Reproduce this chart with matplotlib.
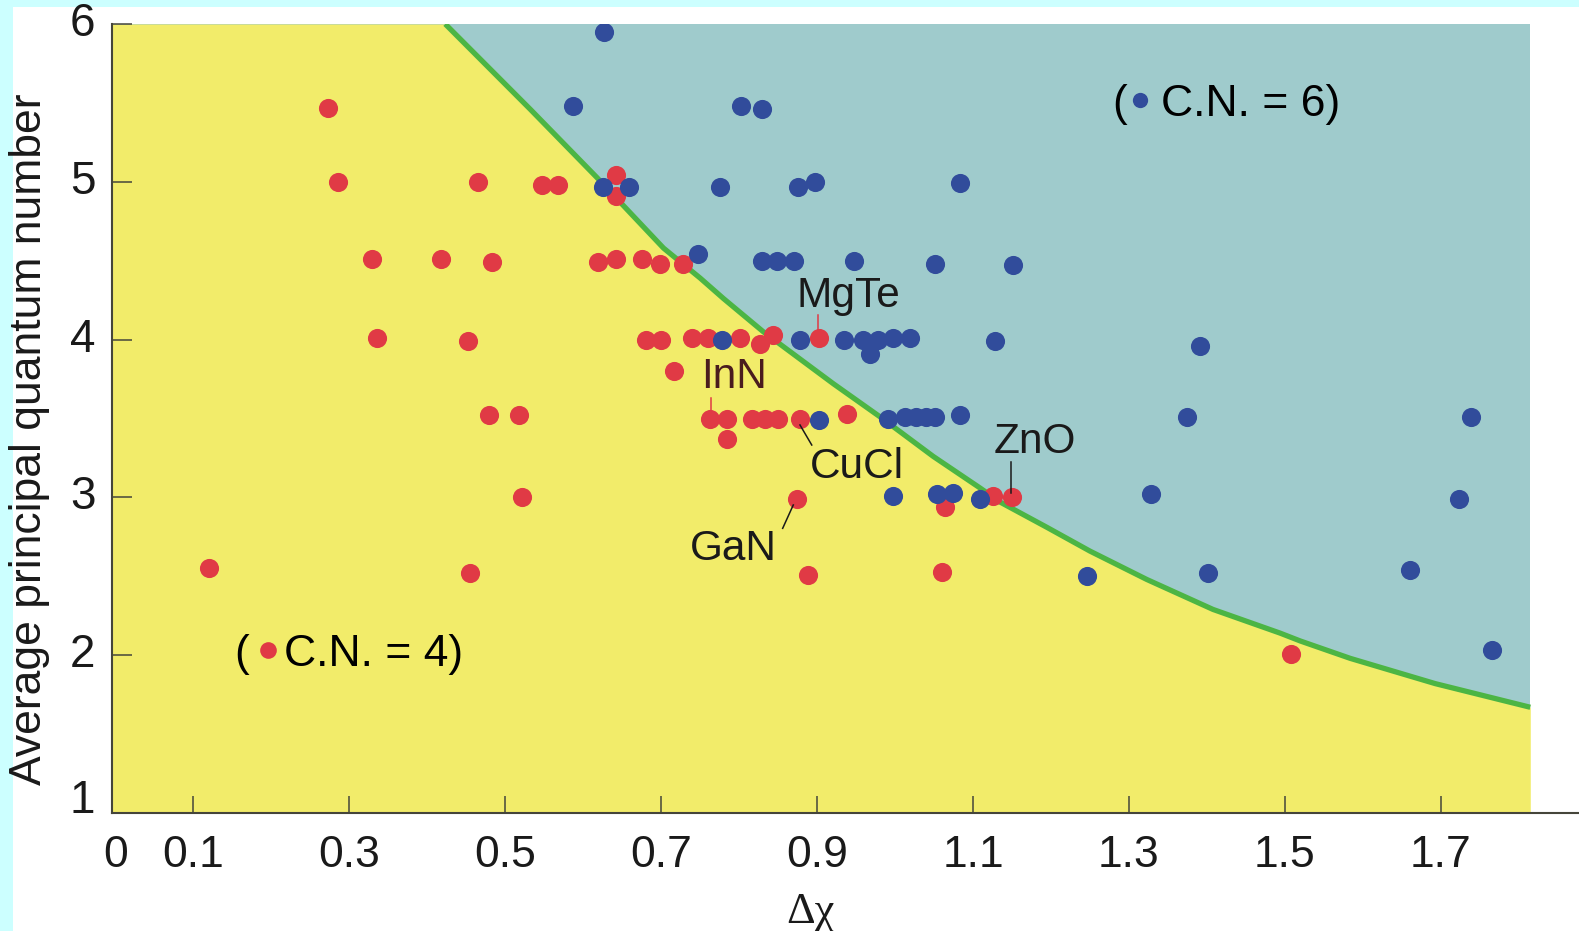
import matplotlib
matplotlib.use('Agg')
import matplotlib.pyplot as plt
from matplotlib.lines import Line2D
from matplotlib.patches import Rectangle

# C.N. = 4 compounds (red)
red_x = [0.273, 0.285, 0.465, 0.547, 0.568, 0.642, 0.642,
         0.329, 0.417, 0.483, 0.619, 0.642, 0.676, 0.698, 0.728,
         0.336, 0.452, 0.680, 0.700, 0.740, 0.760, 0.801, 0.827, 0.844, 0.902,
         0.717,
         0.479, 0.518, 0.763, 0.784, 0.784, 0.816, 0.833, 0.850, 0.878, 0.938,
         0.522, 0.874, 1.064, 1.126, 1.150,
         0.120, 0.455, 0.889, 1.060,
         1.508]
red_y = [5.47, 5.00, 5.00, 4.98, 4.98, 5.04, 4.91,
         4.51, 4.51, 4.49, 4.49, 4.51, 4.51, 4.48, 4.48,
         4.01, 3.99, 4.00, 4.00, 4.01, 4.01, 4.01, 3.97, 4.03, 4.01,
         3.80,
         3.52, 3.52, 3.50, 3.50, 3.37, 3.50, 3.50, 3.50, 3.50, 3.53,
         3.00, 2.99, 2.94, 3.01, 3.00,
         2.55, 2.52, 2.51, 2.53,
         2.01]

# C.N. = 6 compounds (blue)
blue_x = [0.627,
          0.587, 0.803, 0.829,
          0.625, 0.659, 0.775, 0.875, 0.897, 1.083,
          0.747, 0.830, 0.849, 0.870, 0.948, 1.051, 1.151,
          0.778, 0.878, 0.934, 0.959, 0.968, 0.978, 0.998, 1.019, 1.128, 1.391,
          0.902, 0.991, 1.013, 1.027, 1.040, 1.051, 1.083, 1.374, 1.739,
          0.997, 1.054, 1.075, 1.109, 1.329, 1.723,
          1.246, 1.402, 1.661,
          1.766]
blue_y = [5.95,
          5.48, 5.48, 5.46,
          4.97, 4.97, 4.97, 4.97, 5.00, 4.99,
          4.54, 4.50, 4.50, 4.50, 4.50, 4.48, 4.47,
          4.00, 4.00, 4.00, 4.00, 3.91, 4.00, 4.01, 4.01, 3.99, 3.96,
          3.49, 3.50, 3.51, 3.51, 3.51, 3.51, 3.52, 3.51, 3.51,
          3.01, 3.02, 3.03, 2.99, 3.02, 2.99,
          2.50, 2.52, 2.54,
          2.03]

# boundary between the two regions
bound_x = [0.423, 0.532, 0.617, 0.703, 0.750, 0.780, 0.831, 0.921, 0.981, 1.049,
           1.109, 1.135, 1.195, 1.250, 1.323, 1.408, 1.494, 1.520, 1.584, 1.693, 1.815]
bound_y = [6.00, 5.46, 5.03, 4.58, 4.39, 4.26, 4.05, 3.72, 3.51, 3.26,
           3.06, 2.97, 2.81, 2.66, 2.48, 2.29, 2.14, 2.09, 1.98, 1.82, 1.67]

xtick_vals = [0, 0.1, 0.3, 0.5, 0.7, 0.9, 1.1, 1.3, 1.5, 1.7]
xtick_labels = ['0', '0.1', '0.3', '0.5', '0.7', '0.9', '1.1', '1.3', '1.5', '1.7']
ytick_vals = [1, 2, 3, 4, 5, 6]

# name, text x, text y (baseline), leader start, leader end, colours
labels = [
    ('MgTe', 0.940, 4.209, (0.9016, 4.156), (0.9016, 4.042), '#1a1a1a', '#e03a45'),
    ('InN', 0.7935, 3.691, (0.764, 3.630), (0.764, 3.535), '#4a1c1e', '#e03a45'),
    ('CuCl', 0.951, 3.121, (0.8781, 3.459), (0.8932, 3.332), '#1a1a1a', '#1a1a1a'),
    ('GaN', 0.793, 2.603, (0.8695, 2.952), (0.8559, 2.804), '#1a1a1a', '#1a1a1a'),
    ('ZnO', 1.179, 3.279, (1.1488, 3.226), (1.1488, 3.026), '#1a1a1a', '#1a1a1a'),
]

YELLOW = '#f2ec6a'
TEAL = '#9fcbcc'
GREEN = '#4cb544'
RED = '#e03a45'
BLUE = '#314c9b'
AXC = '#45453a'
SANS = ['Liberation Sans', 'DejaVu Sans']

plt.rcParams['font.family'] = SANS

W, H, DPI = 1579, 931, 100
X_LO, X_HI, X_FILL = -0.0045, 1.8775, 1.815

fig = plt.figure(figsize=(W / DPI, H / DPI), dpi=DPI, facecolor='#ccffff')
fig.add_artist(Rectangle((13 / W, 0), 1, 1 - 7 / H, transform=fig.transFigure,
                         facecolor='white', edgecolor='none', zorder=-10))

ax = fig.add_axes([112 / W, 1 - 813 / H, 1 - 112 / W, 789 / H])
ax.patch.set_visible(False)
ax.set_xlim(X_LO, X_HI)
ax.set_ylim(1, 6)

# regions
ax.fill_between([X_LO, X_FILL], 1, 6, color=TEAL, lw=0, zorder=0)
ax.fill_between([X_LO] + bound_x, 1, [6.0] + bound_y, color=YELLOW, lw=0, zorder=1)
ax.plot(bound_x, bound_y, color=GREEN, lw=3.8, solid_capstyle='butt',
        solid_joinstyle='round', zorder=3)

ax.scatter(red_x, red_y, s=190, color=RED, lw=0, zorder=4)
ax.scatter(blue_x, blue_y, s=190, color=BLUE, lw=0, zorder=5)

for name, tx, ty, p0, p1, tc, lc in labels:
    ax.text(tx, ty, name, ha='center', va='baseline', fontsize=30.5, color=tc, zorder=6)
    ax.plot([p0[0], p1[0]], [p0[1], p1[1]], color=lc, lw=1.1, zorder=6)

# "( ● C.N. = n)" keys
leg6 = ax.legend([Line2D([], [], ls='none', marker='o', ms=11, color=BLUE, mec='none')],
                 ['C.N. = 6)'], loc='center left', bbox_to_anchor=(0.6926, 0.8982),
                 frameon=False, fontsize=32, handlelength=0.55, handletextpad=0.2,
                 borderpad=0, borderaxespad=0)
ax.add_artist(leg6)
ax.legend([Line2D([], [], ls='none', marker='o', ms=12, color=RED, mec='none')],
          ['C.N. = 4)'], loc='center left', bbox_to_anchor=(0.0978, 0.2015),
          frameon=False, fontsize=32, handlelength=0.55, handletextpad=0.1,
          borderpad=0, borderaxespad=0)
ax.text(0.6819, 0.8982, '(', transform=ax.transAxes, ha='left', va='center', fontsize=32)
ax.text(0.0836, 0.2015, '(', transform=ax.transAxes, ha='left', va='center', fontsize=32)

# axes
for side in ['top', 'right']:
    ax.spines[side].set_visible(False)
for side in ['left', 'bottom']:
    ax.spines[side].set_color(AXC)
    ax.spines[side].set_linewidth(1.5)

ax.set_xticks(xtick_vals)
ax.set_xticklabels(xtick_labels)
ax.set_yticks(ytick_vals)
ax.set_yticklabels([str(v) for v in ytick_vals])
ax.tick_params(axis='x', direction='in', length=12.5, width=1.1, color=AXC,
               pad=16, labelsize=32, labelcolor='#1a1a1a')
ax.tick_params(axis='y', direction='in', length=14.5, width=1.1, color=AXC,
               pad=12, labelsize=33, labelcolor='#1a1a1a')
ax.xaxis.get_major_ticks()[0].tick1line.set_visible(False)
ax.yaxis.get_major_ticks()[0].tick1line.set_visible(False)
for lab in ax.get_yticklabels():
    lab.set_verticalalignment('center')
ax.get_yticklabels()[0].set_verticalalignment('baseline')

fig.text(30 / W, 1 - 439 / H, 'Average principal quantum number', rotation=90,
         ha='center', va='center', fontsize=32, color='#1a1a1a')
fig.text(810 / W, 8 / H, 'Δχ', ha='center', va='baseline', fontsize=32,
         family=['Liberation Serif', 'DejaVu Serif'], color='#1a1a1a')

fig.savefig('out.png', dpi=DPI, facecolor=fig.get_facecolor())
